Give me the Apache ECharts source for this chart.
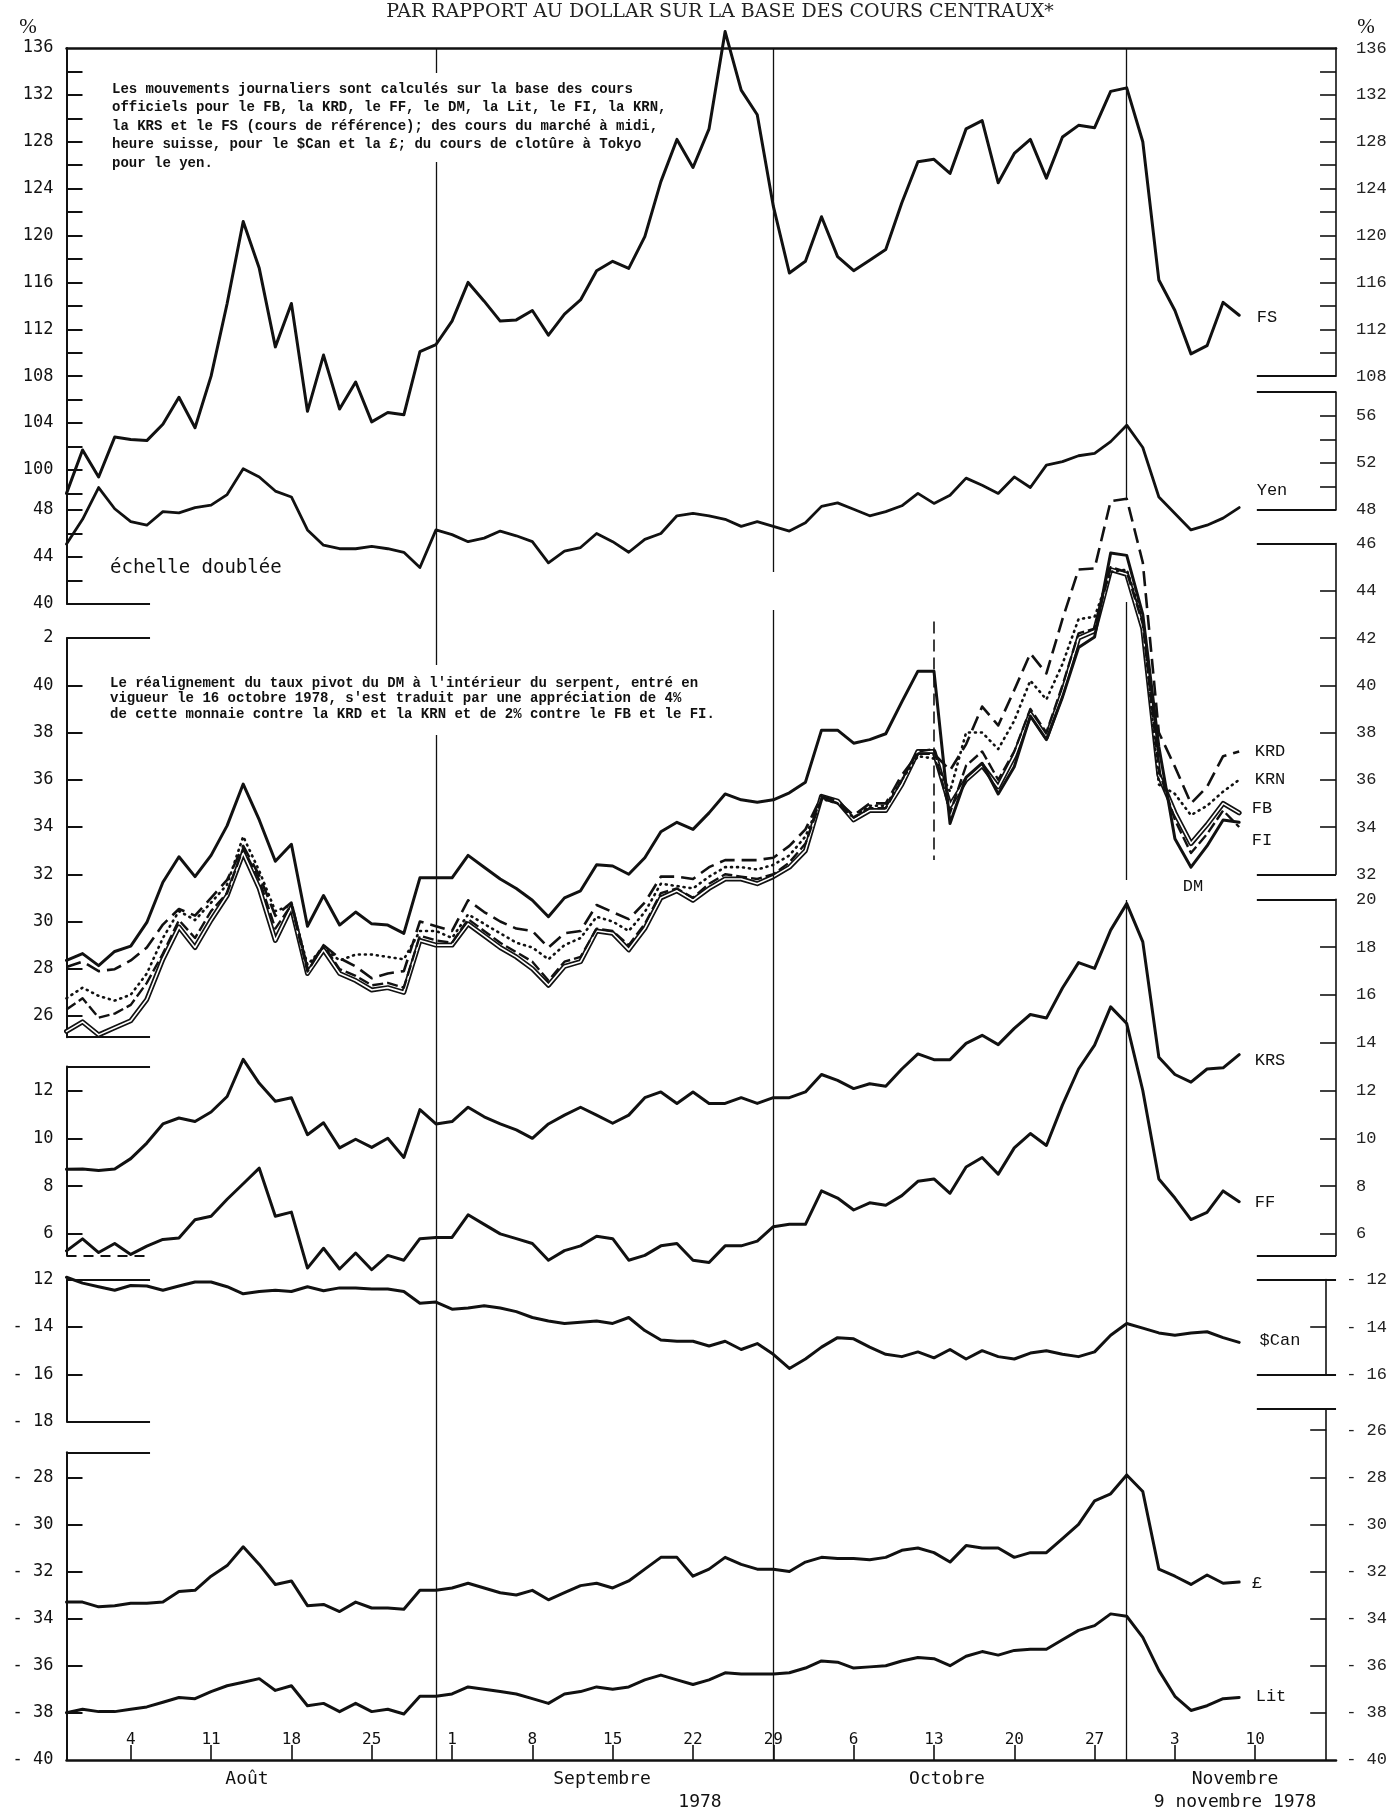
<!DOCTYPE html>
<html>
<head>
<meta charset="utf-8">
<script src="https://cdn.jsdelivr.net/npm/echarts@6/dist/echarts.min.js"></script>
<style>
html,body{margin:0;padding:0;background:#fff;}
#chart{width:1390px;height:1811px;}
</style>
</head>
<body>
<div id="chart"></div>
<script>
// business days from 31 Jul 1978 (index 0) to 9 Nov 1978 (index 73)
var fridayIdx = [4,9,14,19,24,29,34,39,44,49,54,59,64,69,74];
var fridayLabels = ['4','11','18','25','1','8','15','22','29','6','13','20','27','3','10'];
var monthLabels = ['Août','Septembre','Octobre','Novembre'];

var fs = [98.0,101.7,99.4,102.8,102.6,102.5,103.9,106.2,103.6,108.0,114.2,121.2,117.2,110.5,114.2,105.0,109.8,105.2,107.5,104.1,104.9,104.7,110.1,110.7,112.7,116.0,114.4,112.7,112.8,113.6,111.5,113.3,114.5,117.0,117.8,117.2,119.9,124.6,128.2,125.8,129.1,137.4,132.4,130.3,122.5,116.8,117.8,121.6,118.2,117.0,117.9,118.8,122.8,126.3,126.5,125.3,129.1,129.8,124.5,127.0,128.2,124.9,128.4,129.4,129.2,132.3,132.6,128.0,116.2,113.6,109.9,110.6,114.3,113.2];
var yen = [45.1,47.2,49.9,48.1,47.0,46.7,47.85,47.75,48.2,48.4,49.3,51.5,50.8,49.6,49.1,46.3,45.0,44.7,44.7,44.9,44.7,44.4,43.1,46.3,45.9,45.3,45.6,46.2,45.8,45.3,43.5,44.5,44.8,46.0,45.3,44.4,45.5,46.0,47.5,47.7,47.5,47.2,46.6,47.0,46.6,46.2,46.9,48.3,48.6,48.05,47.5,47.85,48.35,49.4,48.55,49.25,50.7,50.1,49.4,50.8,49.9,51.8,52.1,52.6,52.8,53.8,55.2,53.3,49.1,47.7,46.3,46.7,47.3,48.2];
var dm = [28.35,28.64,28.13,28.73,28.96,29.96,31.66,32.74,31.9,32.8,34.06,35.82,34.3,32.55,33.27,29.8,31.1,29.85,30.4,29.9,29.85,29.5,31.85,31.85,31.85,32.8,32.3,31.8,31.4,30.9,30.2,31.0,31.3,32.4,32.35,32.0,32.7,33.8,34.2,33.9,34.6,35.4,35.15,35.05,35.15,35.45,35.9,38.1,38.1,37.55,37.7,37.95,39.3,40.6,40.6,34.15,36.1,36.7,35.4,36.55,38.7,37.7,39.5,41.6,42.05,45.6,45.5,43.0,37.4,33.5,32.3,33.2,34.3,34.2];
var krd = [28.07,28.3,27.9,27.98,28.35,28.9,29.87,30.53,30.25,31.0,31.76,33.2,31.95,30.24,30.8,27.98,29.0,28.45,28.1,27.6,27.8,27.9,30.0,29.8,29.6,30.9,30.4,30.0,29.7,29.6,28.9,29.5,29.6,30.7,30.4,30.1,30.8,31.9,31.9,31.8,32.3,32.6,32.6,32.6,32.7,33.2,33.9,35.3,35.1,34.5,35.0,35.0,36.2,37.1,37.1,36.4,37.5,39.1,38.3,39.8,41.35,40.5,42.8,44.9,44.95,47.8,47.9,45.2,38.0,36.55,35.0,35.7,37.0,37.2];
var krn = [26.75,27.2,26.85,26.65,26.9,27.8,29.3,30.44,30.06,30.8,31.57,33.6,32.14,30.44,30.7,28.17,28.9,28.35,28.6,28.6,28.5,28.4,29.6,29.6,29.3,30.3,29.9,29.5,29.1,28.9,28.4,29.0,29.3,30.2,30.0,29.6,30.4,31.6,31.5,31.4,31.9,32.3,32.3,32.2,32.4,32.8,33.6,35.2,35.0,34.4,34.9,34.9,36.0,37.0,36.9,35.5,38.0,38.0,37.3,38.5,40.2,39.4,40.9,42.8,42.9,44.8,44.9,42.8,35.8,35.4,34.5,34.9,35.5,36.0];
var fi = [26.27,26.75,25.93,26.1,26.47,27.4,28.64,30.06,29.3,30.44,31.2,33.1,31.76,29.7,30.7,27.88,29.0,27.98,27.7,27.3,27.4,27.2,29.4,29.2,29.1,30.1,29.6,29.1,28.7,28.3,27.5,28.3,28.5,29.7,29.6,29.0,29.9,31.2,31.4,31.0,31.6,32.0,31.9,31.8,32.0,32.5,33.3,35.2,35.0,34.4,34.8,34.8,36.0,37.2,37.3,34.6,36.6,37.2,36.0,37.2,39.0,38.0,40.0,42.2,42.4,45.0,44.8,42.6,36.4,34.3,32.9,33.7,34.7,34.0];
var fb = [25.35,25.75,25.2,25.5,25.8,26.7,28.4,29.77,28.9,30.06,31.1,32.9,31.4,29.2,30.6,27.8,28.8,27.8,27.5,27.1,27.2,27.0,29.2,29.0,29.0,29.9,29.4,28.9,28.5,28.0,27.3,28.1,28.3,29.6,29.5,28.8,29.7,31.0,31.3,30.9,31.4,31.8,31.8,31.6,31.9,32.3,33.0,35.3,35.1,34.3,34.7,34.7,35.8,37.2,37.2,34.9,36.0,36.6,35.7,37.0,38.8,37.8,39.7,42.0,42.3,44.9,44.7,42.4,36.2,34.6,33.3,34.1,35.0,34.6];
var krs = [8.7,8.72,8.65,8.72,9.15,9.8,10.6,10.85,10.7,11.1,11.75,13.3,12.3,11.55,11.7,10.15,10.65,9.6,9.96,9.62,10.0,9.2,11.2,10.6,10.7,11.3,10.9,10.6,10.35,10.0,10.6,10.97,11.3,10.97,10.63,10.97,11.7,11.94,11.46,11.94,11.46,11.46,11.7,11.46,11.7,11.7,11.94,12.67,12.42,12.08,12.28,12.18,12.9,13.53,13.29,13.29,13.97,14.31,13.92,14.6,15.18,15.03,16.29,17.35,17.11,18.71,19.82,18.22,13.39,12.67,12.35,12.9,12.95,13.5];
var ff = [5.29,5.79,5.22,5.6,5.14,5.49,5.77,5.83,6.59,6.74,7.45,8.1,8.75,6.74,6.91,4.57,5.4,4.53,5.2,4.5,5.1,4.9,5.8,5.85,5.85,6.8,6.4,6.0,5.8,5.6,4.9,5.3,5.5,5.9,5.8,4.9,5.1,5.5,5.6,4.9,4.8,5.5,5.5,5.7,6.3,6.4,6.4,7.8,7.5,7.0,7.3,7.2,7.6,8.2,8.3,7.7,8.8,9.2,8.5,9.6,10.2,9.7,11.4,12.9,13.9,15.5,14.8,12.0,8.3,7.5,6.6,6.9,7.8,7.35];
var can = [-11.9,-12.15,-12.3,-12.45,-12.25,-12.27,-12.45,-12.27,-12.1,-12.1,-12.3,-12.6,-12.5,-12.45,-12.5,-12.3,-12.47,-12.35,-12.35,-12.4,-12.4,-12.5,-13.0,-12.95,-13.25,-13.2,-13.1,-13.2,-13.35,-13.6,-13.75,-13.85,-13.8,-13.75,-13.85,-13.6,-14.15,-14.55,-14.6,-14.6,-14.8,-14.6,-14.95,-14.7,-15.15,-15.75,-15.35,-14.85,-14.45,-14.5,-14.85,-15.15,-15.25,-15.05,-15.3,-14.95,-15.35,-15.0,-15.25,-15.35,-15.1,-15.0,-15.15,-15.25,-15.05,-14.35,-13.85,-14.05,-14.25,-14.35,-14.25,-14.2,-14.45,-14.65];
var gbp = [-33.3,-33.3,-33.5,-33.45,-33.35,-33.35,-33.3,-32.85,-32.8,-32.2,-31.75,-30.95,-31.7,-32.55,-32.4,-33.45,-33.4,-33.7,-33.3,-33.55,-33.55,-33.6,-32.8,-32.8,-32.7,-32.5,-32.7,-32.9,-33.0,-32.8,-33.2,-32.9,-32.6,-32.5,-32.7,-32.4,-31.9,-31.4,-31.4,-32.2,-31.9,-31.4,-31.7,-31.9,-31.9,-32.0,-31.6,-31.4,-31.45,-31.45,-31.5,-31.4,-31.1,-31.0,-31.2,-31.6,-30.9,-31.0,-31.0,-31.4,-31.2,-31.2,-30.6,-30.0,-29.0,-28.7,-27.9,-28.6,-31.9,-32.2,-32.55,-32.15,-32.5,-32.45];
var lit = [-38.0,-37.85,-37.95,-37.95,-37.85,-37.75,-37.55,-37.35,-37.4,-37.1,-36.85,-36.7,-36.55,-37.05,-36.85,-37.7,-37.6,-37.95,-37.6,-37.95,-37.85,-38.05,-37.3,-37.3,-37.2,-36.9,-37.0,-37.1,-37.2,-37.4,-37.6,-37.2,-37.1,-36.9,-37.0,-36.9,-36.6,-36.4,-36.6,-36.8,-36.6,-36.3,-36.35,-36.35,-36.35,-36.3,-36.1,-35.8,-35.85,-36.1,-36.05,-36.0,-35.8,-35.65,-35.7,-36.0,-35.6,-35.4,-35.55,-35.35,-35.3,-35.3,-34.9,-34.5,-34.3,-33.8,-33.9,-34.8,-36.2,-37.3,-37.9,-37.7,-37.4,-37.35];

var INK = '#111';
var X_MAX = 79.03, GL = 66.5, XK = 16.064, GW = XK * X_MAX;

// vertical calibration of each panel: pixel of a reference value and pixels per unit
var S_FS  = {y0: 48,     v0: 136, k: 11.72};
var S_YEN = {y0: 509.9,  v0: 48,  k: 11.77};
var S_DM  = {y0: 685.3,  v0: 40,  k: 23.62};
var S_KF  = {y0: 1090.5, v0: 12,  k: 23.9};
var S_CAN = {y0: 1327,   v0: -14, k: 23.7};
var S_GBP = {y0: 1477.3, v0: -28, k: 23.55};
function py(s, v) { return s.y0 + (s.v0 - v) * s.k; }
function range(a, b, st) { var r = []; for (var v = a; v <= b + 1e-9; v += st) r.push(+v.toFixed(2)); return r; }
function pairs(arr) { return arr.map(function (v, i) { return [i, v]; }); }

var grids = [], xAxes = [], yAxes = [], series = [];

function addGrid(s, vMin, vMax, yOpt, xOpt) {
  var top = py(s, vMax), bottom = py(s, vMin), gi = grids.length;
  grids.push({left: GL, top: top, width: GW, height: bottom - top});
  xAxes.push(Object.assign({type: 'value', gridIndex: gi, min: 0, max: X_MAX, show: false, splitLine: {show: false}}, xOpt || {}));
  yAxes.push(Object.assign({type: 'value', gridIndex: gi, min: vMin, max: vMax, splitLine: {show: false}}, yOpt));
  return gi;
}
function negFmt(v) { return v < 0 ? '- ' + (-v) : String(v); }
function leftAx(ticks, labels, fmt) {
  return {
    position: 'left',
    axisLine: {show: true, onZero: false, lineStyle: {color: INK, width: 2}},
    axisTick: {show: true, inside: true, length: 16, customValues: ticks, lineStyle: {color: INK, width: 2}},
    axisLabel: {show: true, customValues: labels, formatter: fmt || negFmt, margin: 13,
      color: INK, fontFamily: 'DejaVu Sans Mono', fontSize: 17}
  };
}
function rightAx(ticks, labels) {
  return {
    position: 'right',
    axisLine: {show: true, onZero: false, lineStyle: {color: INK, width: 1.6}},
    axisTick: {show: true, inside: true, length: 16, customValues: ticks, lineStyle: {color: INK, width: 1.6}},
    axisLabel: {show: true, customValues: labels, formatter: negFmt, margin: 20,
      color: '#222', fontFamily: 'Liberation Mono', fontSize: 17}
  };
}

// left boxes (data live here)
var gFS = addGrid(S_FS, 136 - (py(S_YEN, 48) - 48) / S_FS.k, 136, leftAx(range(98, 134, 2), range(100, 136, 4)),
  {show: true, position: 'top', axisLine: {show: true, onZero: false, lineStyle: {color: INK, width: 2.5}},
   axisTick: {show: false}, axisLabel: {show: false}, splitLine: {show: false}});
var gYen = addGrid(S_YEN, 40, 48, leftAx([42, 44, 46, 48], [40, 44, 48]));
var gDM = addGrid(S_DM, 25.1, 42, leftAx(range(26, 40, 2), range(26, 42, 2), function (v) { return v === 42 ? '2' : String(v); }));
var gKF = addGrid(S_KF, 5.1, 13, leftAx([6, 8, 10, 12], [6, 8, 10, 12]));
var gCan = addGrid(S_CAN, -18, -12, leftAx([-16, -14], [-18, -16, -14, -12], function (v) { return v === -12 ? '12' : negFmt(v); }));
var gGbp = addGrid(S_GBP, -40, -26.94, leftAx(range(-38, -28, 2), range(-40, -28, 2)),
  {show: true, position: 'bottom', splitLine: {show: false},
   axisLine: {show: true, onZero: false, lineStyle: {color: INK, width: 2.5}},
   axisTick: {show: true, inside: true, length: 15, customValues: fridayIdx, lineStyle: {color: INK, width: 1.6}},
   axisLabel: {show: true, inside: true, margin: 12, customValues: fridayIdx, color: INK,
     fontFamily: 'DejaVu Sans Mono', fontSize: 16,
     formatter: function (v) { var k = fridayIdx.indexOf(Math.round(v)); return k < 0 ? '' : fridayLabels[k]; }}});

// right boxes (axes only)
addGrid(S_FS, 108, 136, rightAx(range(110, 134, 2), range(108, 136, 4)));
addGrid(S_YEN, 48, 58.02, rightAx([50, 52, 54, 56], [48, 52, 56]));
addGrid(S_DM, 32, 46, rightAx(range(34, 44, 2), range(32, 46, 2)));
addGrid(S_KF, 5.1, 20, rightAx(range(6, 18, 2), range(6, 20, 2)));
addGrid(S_CAN, -16, -12, rightAx([-14], [-16, -14, -12]));
addGrid(S_GBP, -40, -25.1, rightAx(range(-38, -26, 2), range(-40, -26, 2)));

// overlay grid in page pixels, for the frame pieces and month rules
var gOv = grids.length;
grids.push({left: GL, top: 0, width: GW, height: 1811});
xAxes.push({type: 'value', gridIndex: gOv, min: 0, max: X_MAX, show: false});
yAxes.push({type: 'value', gridIndex: gOv, min: 0, max: 1811, inverse: true, show: false});

function lineSeries(name, data, gi, style, extra) {
  return Object.assign({
    name: name, type: 'line', xAxisIndex: gi, yAxisIndex: gi, data: pairs(data),
    showSymbol: false, symbol: 'none', clip: false, silent: true, animation: false,
    lineStyle: Object.assign({color: INK, width: 3, join: 'round', cap: 'round'}, style)
  }, extra || {});
}

series.push(lineSeries('FS', fs, gFS, {width: 3}));
series.push(lineSeries('Yen', yen, gYen, {width: 2.8}));
series.push(lineSeries('FB', fb, gDM, {width: 5}));
series.push(lineSeries('FB_in', fb, gDM, {width: 1.6, color: '#fff'}));
series.push(lineSeries('FI', fi, gDM, {width: 2.4, type: [11, 4], cap: 'butt'}));
series.push(lineSeries('KRN', krn, gDM, {width: 2.6, type: [1, 5], cap: 'round'}));
series.push(lineSeries('KRD', krd, gDM, {width: 2.6, type: [15, 7], cap: 'butt'}));
series.push(lineSeries('DM', dm, gDM, {width: 3}));
series.push(lineSeries('KRS', krs, gKF, {width: 3}));
series.push(lineSeries('FF', ff, gKF, {width: 3}));
series.push(lineSeries('$Can', can, gCan, {width: 3}));
series.push(lineSeries('£', gbp, gGbp, {width: 3}));
series.push(lineSeries('Lit', lit, gGbp, {width: 3}));

// frame pieces and month rules
function seg(x1, y1, x2, y2, dashed, w) {
  return [{coord: [x1, y1], lineStyle: {type: dashed ? [10, 7] : 'solid', width: w || 2, color: INK}}, {coord: [x2, y2]}];
}
var L1 = 5.2, R0 = 74.1;
var decor = [
  seg(0, py(S_YEN, 40), L1, py(S_YEN, 40)),
  seg(0, py(S_DM, 42), L1, py(S_DM, 42)),
  seg(0, py(S_DM, 25.1), L1, py(S_DM, 25.1)),
  seg(0, py(S_KF, 13), L1, py(S_KF, 13)),
  seg(0, py(S_KF, 5.1), L1, py(S_KF, 5.1), true),
  seg(0, py(S_CAN, -12), L1, py(S_CAN, -12)),
  seg(0, py(S_CAN, -18), L1, py(S_CAN, -18)),
  seg(0, py(S_GBP, -26.94), L1, py(S_GBP, -26.94)),
  seg(R0, py(S_FS, 108), X_MAX, py(S_FS, 108)),
  seg(R0, py(S_YEN, 58.02), X_MAX, py(S_YEN, 58.02)),
  seg(R0, py(S_YEN, 48), X_MAX, py(S_YEN, 48)),
  seg(R0, py(S_DM, 46), X_MAX, py(S_DM, 46)),
  seg(R0, py(S_DM, 32), X_MAX, py(S_DM, 32)),
  seg(R0, py(S_KF, 20), X_MAX, py(S_KF, 20)),
  seg(R0, py(S_KF, 5.1), X_MAX, py(S_KF, 5.1)),
  seg(R0, py(S_CAN, -12), X_MAX, py(S_CAN, -12)),
  seg(R0, py(S_CAN, -16), X_MAX, py(S_CAN, -16)),
  seg(R0, py(S_GBP, -25.1), X_MAX, py(S_GBP, -25.1)),
  // month-end rules (31 Aug, 29 Sep, 31 Oct), broken where the original is
  seg(23, 48, 23, 73, false, 1.3), seg(23, 162, 23, 665, false, 1.3), seg(23, 735, 23, 1760, false, 1.3),
  seg(44, 48, 44, 572, false, 1.3), seg(44, 610, 44, 1760, false, 1.3),
  seg(66, 48, 66, 500, false, 1.3), seg(66, 602, 66, 880, false, 1.3), seg(66, 900, 66, 1760, false, 1.3),
  // DM realignment, 13/16 Oct
  [{coord: [54, py(S_DM, 42.7)], lineStyle: {type: [12, 6], width: 1.6, color: INK}}, {coord: [54, py(S_DM, 32.6)]}]
];
series.push({
  type: 'line', xAxisIndex: gOv, yAxisIndex: gOv, data: [[0, 0]], symbol: 'none', silent: true, animation: false,
  lineStyle: {width: 0},
  markLine: {silent: true, symbol: ['none', 'none'], label: {show: false}, animation: false, data: decor}
});

function txt(x, y, s, font, align, color) {
  return {type: 'text', x: x, y: y, silent: true,
    style: {text: s, font: font, fill: color || INK, textAlign: align || 'left', textVerticalAlign: 'middle',
      align: align || 'left', verticalAlign: 'middle'}};
}
var NOTE = 'bold 14px "Liberation Mono"';
var LAB = '17px "Liberation Mono"';
var graphics = [
  txt(720, 12, 'PAR RAPPORT AU DOLLAR SUR LA BASE DES COURS CENTRAUX*', '19px "DejaVu Serif"', 'center', '#222'),
  txt(28, 27, '%', '21px "Liberation Serif"', 'center'),
  txt(1366, 27, '%', '21px "Liberation Serif"', 'center'),
  txt(112, 89, 'Les mouvements journaliers sont calculés sur la base des cours', NOTE),
  txt(112, 107.5, 'officiels pour le FB, la KRD, le FF, le DM, la Lit, le FI, la KRN,', NOTE),
  txt(112, 126, 'la KRS et le FS (cours de référence); des cours du marché à midi,', NOTE),
  txt(112, 144.5, 'heure suisse, pour le $Can et la £; du cours de clotûre à Tokyo', NOTE),
  txt(112, 163, 'pour le yen.', NOTE),
  txt(110, 568, 'échelle doublée', '19px "DejaVu Sans Mono"'),
  txt(110, 683, "Le réalignement du taux pivot du DM à l'intérieur du serpent, entré en", NOTE),
  txt(110, 698.5, "vigueur le 16 octobre 1978, s'est traduit par une appréciation de 4%", NOTE),
  txt(110, 714, 'de cette monnaie contre la KRD et la KRN et de 2% contre le FB et le FI.', NOTE),
  txt(1267, 317, 'FS', LAB, 'center'),
  txt(1272, 490, 'Yen', LAB, 'center'),
  txt(1270, 751, 'KRD', LAB, 'center'),
  txt(1270, 779, 'KRN', LAB, 'center'),
  txt(1262, 808, 'FB', LAB, 'center'),
  txt(1262, 840, 'FI', LAB, 'center'),
  txt(1193, 886, 'DM', LAB, 'center'),
  txt(1270, 1060, 'KRS', LAB, 'center'),
  txt(1265, 1202, 'FF', LAB, 'center'),
  txt(1280, 1340, '$Can', LAB, 'center'),
  txt(1257, 1583, '£', LAB, 'center'),
  txt(1271, 1696, 'Lit', LAB, 'center'),
  txt(247, 1779, monthLabels[0], '18px "DejaVu Sans Mono"', 'center'),
  txt(602, 1779, monthLabels[1], '18px "DejaVu Sans Mono"', 'center'),
  txt(947, 1779, monthLabels[2], '18px "DejaVu Sans Mono"', 'center'),
  txt(1235, 1779, monthLabels[3], '18px "DejaVu Sans Mono"', 'center'),
  txt(700, 1802, '1978', '18px "DejaVu Sans Mono"', 'center'),
  txt(1235, 1802, '9 novembre 1978', '18px "DejaVu Sans Mono"', 'center')
];

var chart = echarts.init(document.getElementById('chart'), null, {renderer: 'canvas'});
chart.setOption({
  backgroundColor: '#fff',
  animation: false,
  grid: grids,
  xAxis: xAxes,
  yAxis: yAxes,
  series: series,
  graphic: graphics
});
</script>
</body>
</html>
